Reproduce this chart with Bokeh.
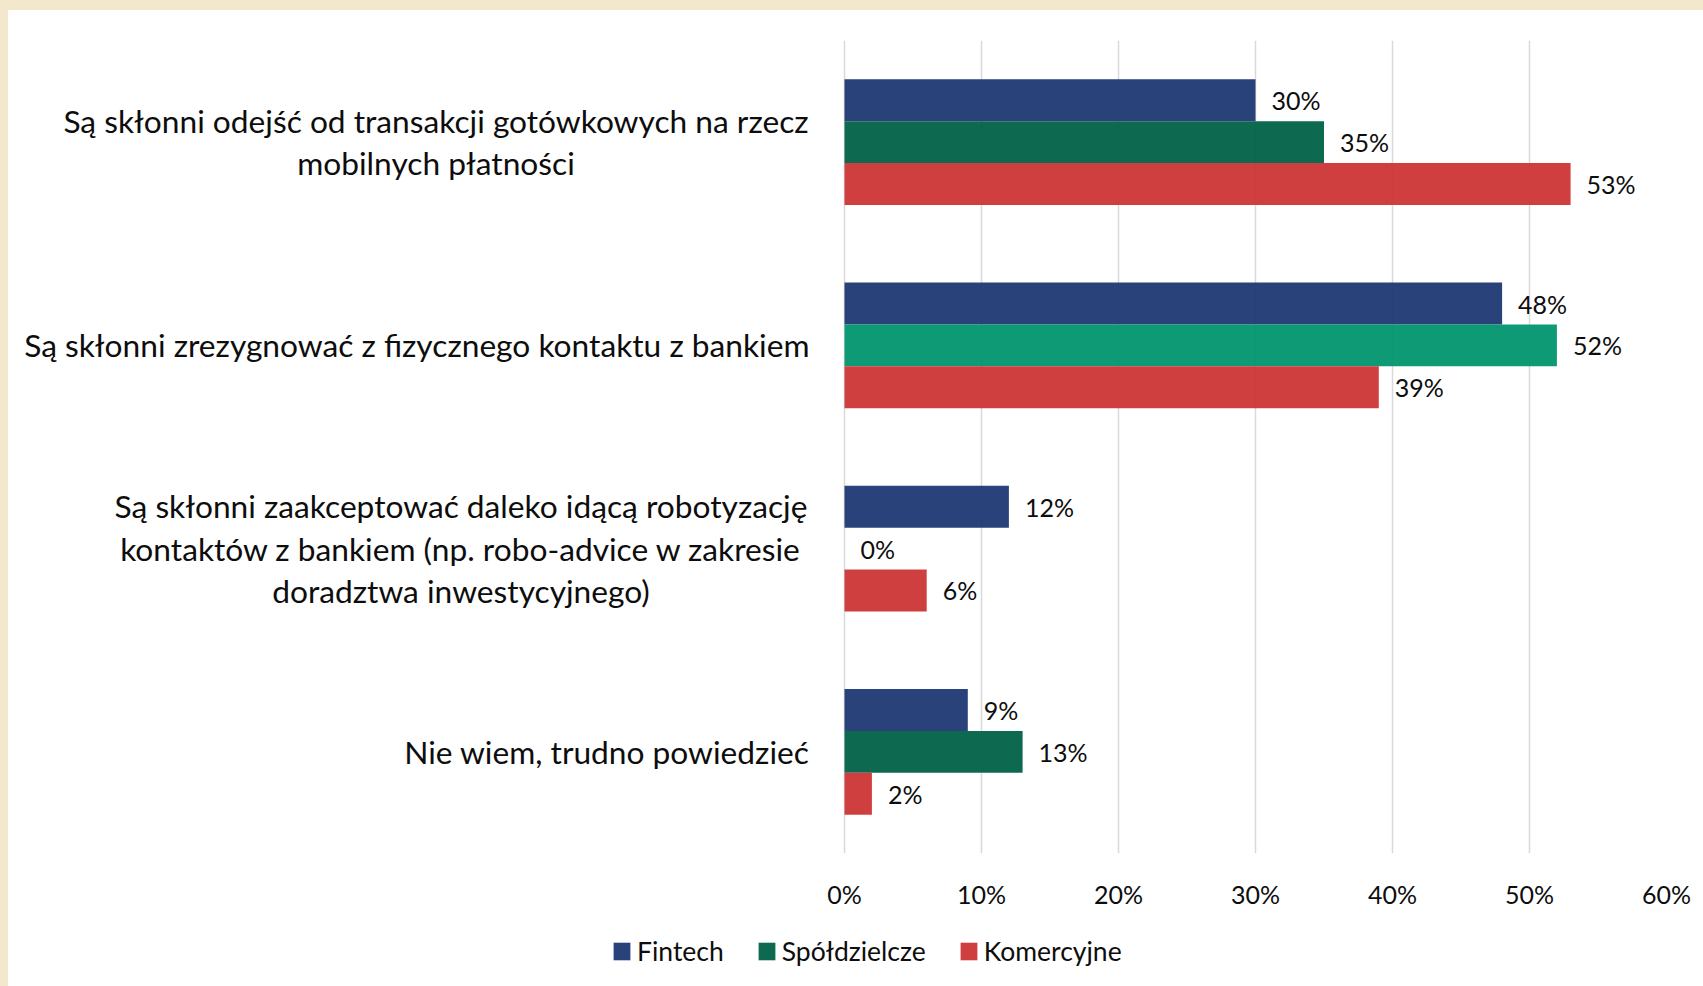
from bokeh.plotting import figure
from bokeh.layouts import column
from bokeh.models import (ColumnDataSource, FactorRange, Range1d, Legend, LegendItem,
                          PrintfTickFormatter, FixedTicker)
from bokeh.transform import dodge
from bokeh.core.properties import value
from bokeh.embed import file_html
from bokeh.resources import INLINE

# ---------------- data ----------------
categories = [
    "Są skłonni odejść od transakcji gotówkowych na rzecz\nmobilnych płatności",
    "Są skłonni zrezygnować z fizycznego kontaktu z bankiem",
    "Są skłonni zaakceptować daleko idącą robotyzację\nkontaktów z bankiem (np. robo-advice w zakresie\ndoradztwa inwestycyjnego)",
    "Nie wiem, trudno powiedzieć",
]
series_names = ["Fintech", "Spółdzielcze", "Komercyjne"]
fintech = [30, 48, 12, 9]
spoldzielcze = [35, 52, 0, 13]
komercyjne = [53, 39, 6, 2]
x_ticks = [0, 10, 20, 30, 40, 50, 60]

fintech_colors = ["#1E3873", "#1E3873", "#1E3873", "#1E3873"]
spoldzielcze_colors = ["#006146", "#00956D", "#006146", "#006146"]
komercyjne_colors = ["#CE3535", "#CE3535", "#CE3535", "#CE3535"]

# ---------------- layout / style ----------------
FONT = "Lato"
TXT = "#0D0D0D"
W = 1695
H_CHART = 906
H_LEG = 70
PLOT_LEFT = 836          # px from figure left where 0% sits
BORDER_R = 37
X_MAX = 60
LABEL_GAP = 35
label_block_widths = [747, 783, 697, 441]   # approx widest line width (px) per category block

frame_w = W - BORDER_R
x_start = -PLOT_LEFT * X_MAX / (frame_w - PLOT_LEFT)

p = figure(width=W, height=H_CHART,
           y_range=FactorRange(factors=categories[::-1], range_padding=0, factor_padding=0),
           x_range=Range1d(x_start, X_MAX),
           y_axis_location=None,
           output_backend="svg", toolbar_location=None,
           min_border_left=0, min_border_right=BORDER_R, min_border_top=30, min_border_bottom=63)
p.outline_line_color = None
p.background_fill_color = None
p.border_fill_color = None
p.ygrid.grid_line_color = None

ticker = FixedTicker(ticks=x_ticks)
p.xaxis.ticker = ticker
p.xgrid.ticker = ticker
p.xgrid.grid_line_color = "#D9D9D9"
p.xgrid.grid_line_width = 1.5
p.xaxis.formatter = PrintfTickFormatter(format="%d%%")
p.xaxis.axis_line_color = None
p.xaxis.major_tick_line_color = None
p.xaxis.minor_tick_line_color = None
p.xaxis.major_label_text_font = FONT
p.xaxis.major_label_text_font_size = "25px"
p.xaxis.major_label_text_color = TXT
p.xaxis.major_label_standoff = 19

bar_h = 0.206
specs = [
    ("Fintech", fintech, fintech_colors, bar_h),
    ("Spółdzielcze", spoldzielcze, spoldzielcze_colors, 0.0),
    ("Komercyjne", komercyjne, komercyjne_colors, -bar_h),
]
for name, vals, cols, off in specs:
    src = ColumnDataSource(dict(cat=categories, val=vals, color=cols,
                                lbl=[f"{v}%" for v in vals]))
    p.hbar(y=dodge("cat", off, range=p.y_range), right="val", left=0, height=bar_h,
           fill_color="color", fill_alpha=0.95, line_color=None, source=src)
    p.text(x="val", y=dodge("cat", off, range=p.y_range), text="lbl", source=src,
           x_offset=16, text_baseline="middle", text_align="left",
           text_font=value(FONT), text_font_size="25px", text_color=TXT)

# category labels: single-line right aligned, multi-line blocks centred
single = [i for i, c in enumerate(categories) if "\n" not in c]
multi = [i for i, c in enumerate(categories) if "\n" in c]
src_single = ColumnDataSource(dict(cat=[categories[i] for i in single],
                                   x=[0] * len(single)))
src_multi = ColumnDataSource(dict(cat=[categories[i] for i in multi],
                                  x=[0] * len(multi),
                                  xoff=[-(LABEL_GAP + label_block_widths[i] / 2) for i in multi]))
p.text(x="x", y="cat", text="cat", source=src_single, x_offset=-LABEL_GAP,
       text_align="right", text_baseline="middle",
       text_font=value(FONT), text_font_size="31.7px", text_color=TXT)
p.text(x="x", y="cat", text="cat", source=src_multi, x_offset="xoff",
       text_align="center", text_baseline="middle", text_line_height=1.115,
       text_font=value(FONT), text_font_size="31.7px", text_color=TXT)

# ---------------- legend strip ----------------
pl = figure(width=W, height=H_LEG, x_range=Range1d(0, W), y_range=Range1d(0, H_LEG),
            x_axis_location=None, y_axis_location=None, output_backend="svg",
            toolbar_location=None, min_border=0)
pl.outline_line_color = None
pl.grid.visible = False
pl.background_fill_color = None
pl.border_fill_color = None
leg_colors = [fintech_colors[0], spoldzielcze_colors[0], komercyjne_colors[0]]
items = []
for name, col in zip(series_names, leg_colors):
    # zero-width proxy bar: only its legend swatch is visible
    r = pl.hbar(y=[0], right=[0], left=0, height=1, fill_color=col, fill_alpha=0.95,
                line_color=None)
    items.append(LegendItem(label=name, renderers=[r], index=0))
legend = Legend(items=items, orientation="horizontal", location=(603, 19),
                border_line_color=None, background_fill_alpha=0, padding=0, margin=0,
                glyph_width=21, glyph_height=22, label_standoff=5, spacing=32,
                label_text_font=FONT, label_text_font_size="26.5px", label_text_color=TXT)
pl.add_layout(legend, "center")

layout = column(p, pl, spacing=0)
layout.styles = {"background-color": "white", "box-shadow": "-1px -1px 0 0 #D6D6D6"}
html = file_html(layout, INLINE)
page_css = ("<style>"
            "html { background-color:#F3E7CC !important; }"
            "body { background-color:white !important; margin:0 !important; padding:0 !important;"
            " border-left:8px solid #F3E7CC !important; border-top:10px solid #F3E7CC !important; }"
            "</style></head>")
html = html.replace("</head>", page_css, 1)
open("out.html", "w").write(html)
